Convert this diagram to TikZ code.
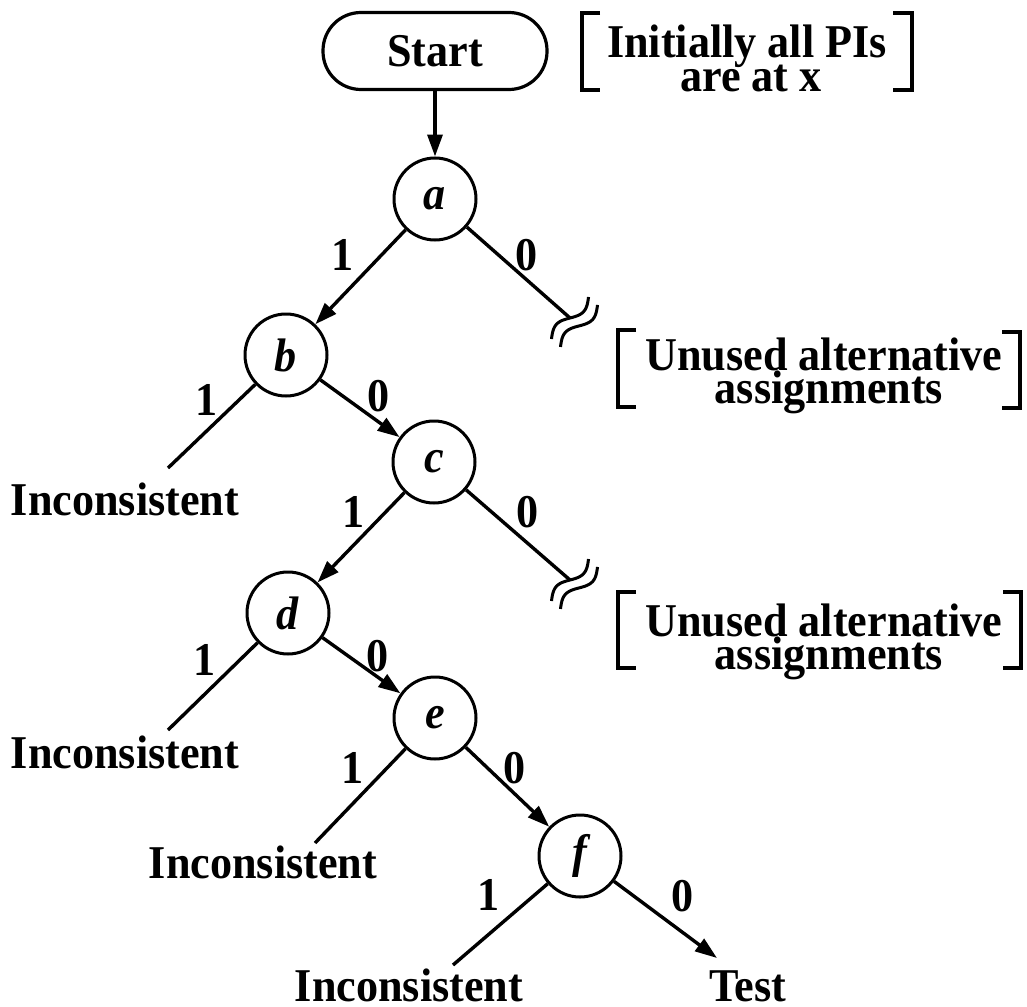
\documentclass[tikz,border=0pt]{standalone}
\usepackage{fontspec}
\setmainfont{Liberation Serif}[FakeStretch=0.94]
\usetikzlibrary{arrows.meta}
\begin{document}
\begin{tikzpicture}[x=0.5pt,y=-0.5pt,
  every node/.style={font=\fontsize{23.5}{27}\selectfont\bfseries},
  txt/.style={inner sep=0pt, anchor=base},
  lbl/.style={inner sep=0pt},
  state/.style={circle, draw, line width=1.5pt, minimum size=41pt, inner sep=0pt,
                font=\fontsize{23.5}{27}\selectfont\bfseries\itshape},
  startbox/.style={draw, line width=1.6pt, rounded corners=19pt,
                   minimum width=112pt, minimum height=38.5pt, inner sep=0pt},
  conn/.style={line width=1.7pt},
  arr/.style={conn, -{Triangle[length=11pt,width=7.5pt]}},
  wave/.style={line width=1.5pt},
  brkt/.style={line width=1.8pt}]

\useasboundingbox (0,0) rectangle (1027,1006);

% start box and decision nodes
\node[startbox] (start) at (435,51) {Start};
\node[state] (a) at (435,199) {a};
\node[state] (b) at (286,355) {b};
\node[state] (c) at (434,462) {c};
\node[state] (d) at (288,613) {d};
\node[state] (e) at (435,718) {e};
\node[state] (f) at (580,856) {f};

% free ends of the branches
\coordinate (brk1) at (570,318);
\coordinate (brk2) at (570,580);
\coordinate (end1) at (168,468);
\coordinate (end2) at (168,730);
\coordinate (end3) at (315,843);
\coordinate (end4) at (453,965);
\coordinate (tip)  at (717,958);

% connectors
\draw[arr]  (start) -- (a);
\draw[arr]  (a) -- (b);
\draw[conn] (a) -- (brk1);
\draw[conn] (b) -- (end1);
\draw[arr]  (b) -- (c);
\draw[arr]  (c) -- (d);
\draw[conn] (c) -- (brk2);
\draw[conn] (d) -- (end2);
\draw[arr]  (d) -- (e);
\draw[conn] (e) -- (end3);
\draw[arr]  (e) -- (f);
\draw[conn] (f) -- (end4);
\draw[arr]  (f) -- (tip);

% break marks on the unused branches
\foreach \p in {brk1,brk2}{
  \begin{scope}[shift={(\p)}, rotate=48.6]
    \draw[wave] plot[smooth, domain=-28:28, samples=25] (\x,{6*sin(180*\x/28)});
    \draw[wave] plot[smooth, domain=-28:28, samples=25] (\x,{12+6*sin(180*\x/28)});
  \end{scope}
}

% branch values
\node[lbl] (la1) at (343,255) {1};
\node[lbl] (la0) at (527,255) {0};
\node[lbl] (lb1) at (207,400) {1};
\node[lbl] (lb0) at (379,396) {0};
\node[lbl] (lc1) at (354,512) {1};
\node[lbl] (lc0) at (528,512) {0};
\node[lbl] (ld1) at (205,660) {1};
\node[lbl] (ld0) at (378,656) {0};
\node[lbl] (le1) at (353,768) {1};
\node[lbl] (le0) at (515,768) {0};
\node[lbl] (lf1) at (489,895) {1};
\node[lbl] (lf0) at (683,896) {0};

% outcomes
\node[txt] (inc1) at (125,515) {Inconsistent};
\node[txt] (inc2) at (125,768) {Inconsistent};
\node[txt] (inc3) at (263,878) {Inconsistent};
\node[txt] (inc4) at (409,1001) {Inconsistent};
\node[txt] (test) at (748,1001) {Test};

% bracketed notes
\draw[brkt] (600,13) -- (582,13) -- (582,90) -- (600,90);
\draw[brkt] (893,13) -- (912,13) -- (912,90) -- (893,90);
\node[txt] (ini1) at (747,58) {Initially all PIs};
\node[txt] (ini2) at (751,91) {are at x};

\draw[brkt] (636,330) -- (618,330) -- (618,407) -- (636,407);
\draw[brkt] (1002,332) -- (1020,332) -- (1020,408) -- (1002,408);
\node[txt] (un1a) at (824,370) {Unused alternative};
\node[txt] (un1b) at (829,403) {assignments};

\draw[brkt] (636,592) -- (618,592) -- (618,668) -- (636,668);
\draw[brkt] (1003,592) -- (1021,592) -- (1021,668) -- (1003,668);
\node[txt] (un2a) at (824,636) {Unused alternative};
\node[txt] (un2b) at (829,669) {assignments};

\end{tikzpicture}
\end{document}
